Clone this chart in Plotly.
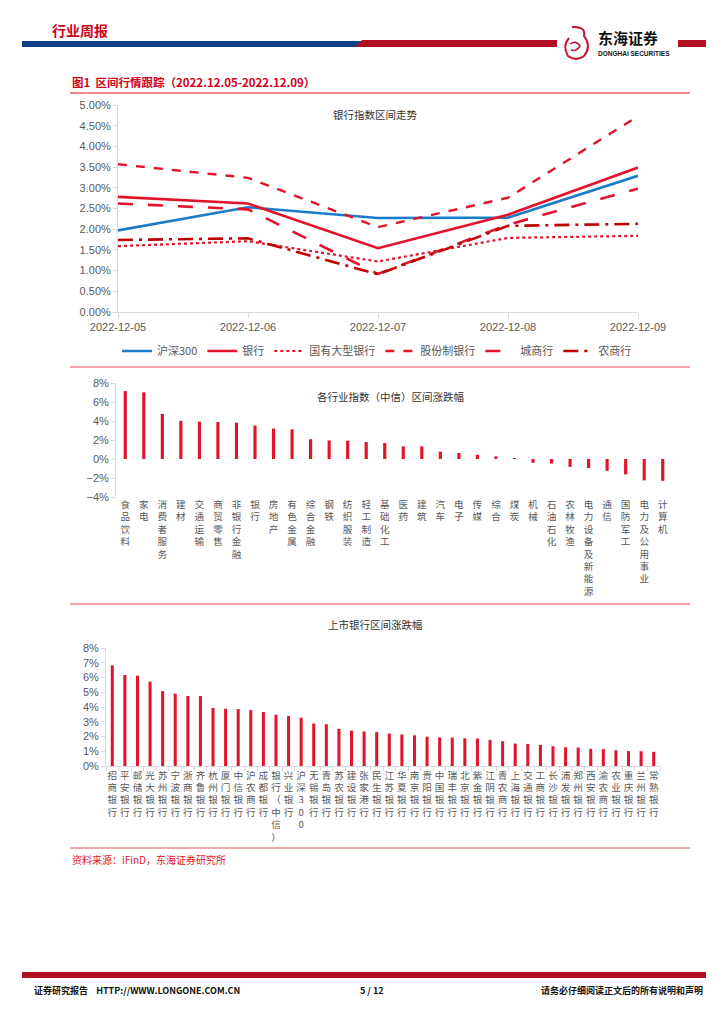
import plotly.graph_objects as go

# ---------------- data ----------------
dates = ["2022-12-05", "2022-12-06", "2022-12-07", "2022-12-08", "2022-12-09"]
hs300 = [1.97, 2.53, 2.27, 2.28, 3.29]
bank = [2.78, 2.62, 1.54, 2.35, 3.49]
big_state = [1.59, 1.71, 1.22, 1.79, 1.84]
joint_stock = [3.57, 3.24, 2.05, 2.76, 4.73]
city_comm = [2.62, 2.48, 0.92, 2.11, 2.98]
rural_comm = [1.74, 1.78, 0.91, 2.08, 2.13]

industries = ["食品饮料", "家电", "消费者服务", "建材", "交通运输", "商贸零售", "非银行金融", "银行",
              "房地产", "有色金属", "综合金融", "钢铁", "纺织服装", "轻工制造", "基础化工", "医药",
              "建筑", "汽车", "电子", "传媒", "综合", "煤炭", "机械", "石油石化", "农林牧渔",
              "电力设备及新能源", "通信", "国防军工", "电力及公用事业", "计算机"]
industry_chg = [7.15, 7.02, 4.75, 4.02, 3.93, 3.90, 3.82, 3.52, 3.20, 3.12, 2.08, 1.96, 1.92,
                1.80, 1.68, 1.33, 1.33, 0.78, 0.63, 0.45, 0.28, 0.05, -0.40, -0.47, -0.83,
                -0.96, -1.24, -1.62, -2.25, -2.30]

banks = ["招商银行", "平安银行", "邮储银行", "光大银行", "苏州银行", "宁波银行", "浙商银行", "齐鲁银行",
         "杭州银行", "厦门银行", "中信银行", "沪农商行", "成都银行", "银行（中信）", "兴业银行", "沪深300",
         "无锡银行", "青岛银行", "苏农银行", "建设银行", "张家港行", "民生银行", "江苏银行", "华夏银行",
         "南京银行", "贵阳银行", "中国银行", "瑞丰银行", "北京银行", "紫金银行", "江阴银行", "青农商行",
         "上海银行", "交通银行", "工商银行", "长沙银行", "浦发银行", "郑州银行", "西安银行", "渝农商行",
         "农业银行", "重庆银行", "兰州银行", "常熟银行"]
bank_chg = [6.82, 6.17, 6.12, 5.72, 5.08, 4.90, 4.75, 4.74, 3.94, 3.88, 3.86, 3.79, 3.66, 3.48,
            3.39, 3.28, 2.88, 2.83, 2.52, 2.40, 2.34, 2.30, 2.20, 2.14, 2.08, 1.99, 1.94, 1.92,
            1.88, 1.86, 1.77, 1.68, 1.52, 1.50, 1.43, 1.34, 1.27, 1.25, 1.16, 1.14, 1.07, 1.01,
            1.00, 0.96]

# ---------------- styling ----------------
PAGE_W, PAGE_H = 724, 1024
OFF = 8  # default page body margin
W, H = PAGE_W - OFF, PAGE_H - OFF
RED = "#E2132B"
DRED = "#C00000"
BLUE = "#1C7CC8"
GRAY_TXT = "#595959"
AX = "#D9D9D9"
CJK = "Noto Sans CJK SC"
LAT = "Liberation Sans, Noto Sans CJK SC"


def px_x(v):
    return (v - OFF) / W


def px_y(v):
    return 1 - (v - OFF) / H


def vert(s):
    return "<br>".join(list(s))


fig = go.Figure()

series = [
    ("沪深300", hs300, BLUE, "solid", 2.6),
    ("银行", bank, RED, "solid", 2.6),
    ("国有大型银行", big_state, RED, "dot", 2.2),
    ("股份制银行", joint_stock, RED, "dash", 2.4),
    ("城商行", city_comm, RED, "longdash", 2.6),
    ("农商行", rural_comm, DRED, "longdashdot", 2.6),
]
for name, vals, col, dash, w in series:
    fig.add_trace(go.Scatter(
        x=dates, y=[v / 100 for v in vals], mode="lines", name=name,
        line=dict(color=col, dash=dash, width=w), xaxis="x", yaxis="y",
        hoverinfo="skip"))

fig.add_trace(go.Bar(x=industries, y=industry_chg, marker_color=RED, width=0.17,
                     marker_line_width=0,
                     xaxis="x2", yaxis="y2", showlegend=False, hoverinfo="skip"))
fig.add_trace(go.Bar(x=banks, y=bank_chg, marker_color=RED, width=0.24,
                     marker_line_width=0,
                     xaxis="x3", yaxis="y3", showlegend=False, hoverinfo="skip"))

tickfont = dict(family=LAT, size=11, color=GRAY_TXT)
lab_font = dict(family=CJK, size=9.6, color=GRAY_TXT)

fig.update_layout(
    template="none",
    width=W, height=H, autosize=False,
    margin=dict(l=0, r=0, t=0, b=0, pad=0),
    paper_bgcolor="white", plot_bgcolor="rgba(0,0,0,0)",
    font=dict(family=CJK, color=GRAY_TXT),
    xaxis=dict(domain=[px_x(118), px_x(638)], anchor="y", type="category",
               range=[0, 4], showline=True, linecolor=AX, linewidth=1,
               ticks="outside", ticklen=5, tickcolor=AX, showgrid=False,
               tickfont=tickfont, automargin=False, zeroline=False),
    yaxis=dict(domain=[px_y(312), px_y(105)], anchor="x", range=[0, 0.05],
               dtick=0.005, tickformat=".2%", showline=True, linecolor=AX,
               ticks="outside", ticklen=4, tickcolor=AX, showgrid=False,
               zeroline=False, tickfont=tickfont, automargin=False),
    xaxis2=dict(domain=[px_x(116), px_x(672)], anchor="y2", type="category",
                showline=False, ticks="", showgrid=False, tickangle=0,
                tickvals=industries, ticktext=[vert(s) for s in industries],
                tickfont=lab_font, automargin=False, zeroline=False),
    yaxis2=dict(domain=[px_y(497), px_y(383)], anchor="x2", range=[-4, 8],
                dtick=2, ticksuffix="%", showline=True, linecolor=AX,
                ticks="outside", ticklen=4, tickcolor=AX, showgrid=False,
                zeroline=False, tickfont=tickfont, automargin=False),
    xaxis4=dict(overlaying="x2", anchor="free", position=px_y(459), type="linear",
                range=[-0.5, len(industries) - 0.5],
                tickvals=[i - 0.5 for i in range(len(industries) + 1)],
                showticklabels=False, ticks="outside", ticklen=4, tickcolor=AX,
                showline=True, linecolor=AX, showgrid=False, zeroline=False,
                automargin=False),
    xaxis3=dict(domain=[px_x(106), px_x(660)], anchor="y3", type="category",
                showline=True, linecolor=AX, ticks="outside", ticklen=4,
                tickcolor=AX, tickson="boundaries", showgrid=False, tickangle=0,
                tickvals=banks, ticktext=[vert(s) for s in banks], tickfont=lab_font,
                automargin=False, zeroline=False),
    yaxis3=dict(domain=[px_y(766), px_y(648)], anchor="x3", range=[0, 8],
                dtick=1, ticksuffix="%", showline=True, linecolor=AX,
                ticks="outside", ticklen=4, tickcolor=AX, showgrid=False,
                zeroline=False, tickfont=tickfont, automargin=False),
    legend=dict(orientation="h", x=px_x(377), xanchor="center", y=px_y(351),
                yanchor="middle", font=dict(family=CJK, size=11, color=GRAY_TXT),
                itemwidth=30, tracegroupgap=0, bgcolor="rgba(0,0,0,0)"),
)

shapes = []
# header bars
shapes.append(dict(type="rect", xref="paper", yref="paper", x0=px_x(22), x1=px_x(362),
                   y0=px_y(47), y1=px_y(41), fillcolor="#0F3F87", line=dict(width=0)))
shapes.append(dict(type="path", xref="paper", yref="paper",
                   path=f"M {px_x(355)},{px_y(47)} L {px_x(362)},{px_y(40)} L {px_x(557)},{px_y(40)} L {px_x(557)},{px_y(47)} Z",
                   fillcolor="#B01020", line=dict(width=0)))
shapes.append(dict(type="rect", xref="paper", yref="paper", x0=px_x(678), x1=px_x(706),
                   y0=px_y(47), y1=px_y(40), fillcolor="#B01020", line=dict(width=0)))
# logo swirl (approximate)
shapes.append(dict(type="path", xref="paper", yref="paper",
                   path=(f"M {px_x(572)},{px_y(27)} Q {px_x(586)},{px_y(26)} {px_x(584)},{px_y(36)} "
                         f"Q {px_x(592)},{px_y(46)} {px_x(584)},{px_y(56)} "
                         f"Q {px_x(576)},{px_y(62)} {px_x(568)},{px_y(56)} "
                         f"Q {px_x(562)},{px_y(46)} {px_x(569)},{px_y(38)}"),
                   line=dict(color="#C8102E", width=2)))
shapes.append(dict(type="path", xref="paper", yref="paper",
                   path=(f"M {px_x(570)},{px_y(44)} Q {px_x(576)},{px_y(40)} {px_x(580)},{px_y(46)} "
                         f"Q {px_x(576)},{px_y(52)} {px_x(571)},{px_y(50)}"),
                   line=dict(color="#C8102E", width=1.5)))
# section separators
for yy, col, wdt in [(93, RED, 1.2), (367, "#E8485A", 1), (604, "#E8485A", 1), (848, "#E8485A", 1)]:
    shapes.append(dict(type="line", xref="paper", yref="paper", x0=px_x(70), x1=px_x(690),
                       y0=px_y(yy), y1=px_y(yy), line=dict(color=col, width=wdt)))
# footer bar
shapes.append(dict(type="rect", xref="paper", yref="paper", x0=px_x(22), x1=px_x(706),
                   y0=px_y(978), y1=px_y(972), fillcolor="#B01020", line=dict(width=0)))
fig.update_layout(shapes=shapes)

ann = []


def add_text(txt, x, y, size, color, xanchor="left", bold=False, family=CJK):
    t = f"<b>{txt}</b>" if bold else txt
    ann.append(dict(text=t, x=px_x(x), y=px_y(y), xref="paper", yref="paper",
                    xanchor=xanchor, yanchor="middle", showarrow=False,
                    font=dict(family=family, size=size, color=color)))


add_text("行业周报", 50, 30, 14, "#D0021B", bold=True)
add_text("东海证券", 596, 38, 15, "#111111", bold=True)
add_text("DONGHAI SECURITIES", 596, 53, 6.5, "#111111", bold=True, family="Liberation Sans")
add_text("图1  区间行情跟踪（2022.12.05-2022.12.09）", 70, 82, 11.5, "#D0021B", bold=True)
add_text("银行指数区间走势", 375, 114, 10.5, "#333333", xanchor="center")
add_text("各行业指数（中信）区间涨跌幅", 390, 396, 10.5, "#333333", xanchor="center")
add_text("上市银行区间涨跌幅", 375, 624, 10.5, "#333333", xanchor="center")
add_text("资料来源：iFinD，东海证券研究所", 70, 859, 10, "#E2132B")
add_text("证券研究报告    HTTP://WWW.LONGONE.COM.CN", 32, 990, 9, "#111111", bold=True)
add_text("5 / 12", 372, 990, 9, "#111111", xanchor="center", bold=True)
add_text("请务必仔细阅读正文后的所有说明和声明", 705, 990, 9, "#111111", xanchor="right", bold=True)
fig.update_layout(annotations=ann)

fig.write_html("out.html")
